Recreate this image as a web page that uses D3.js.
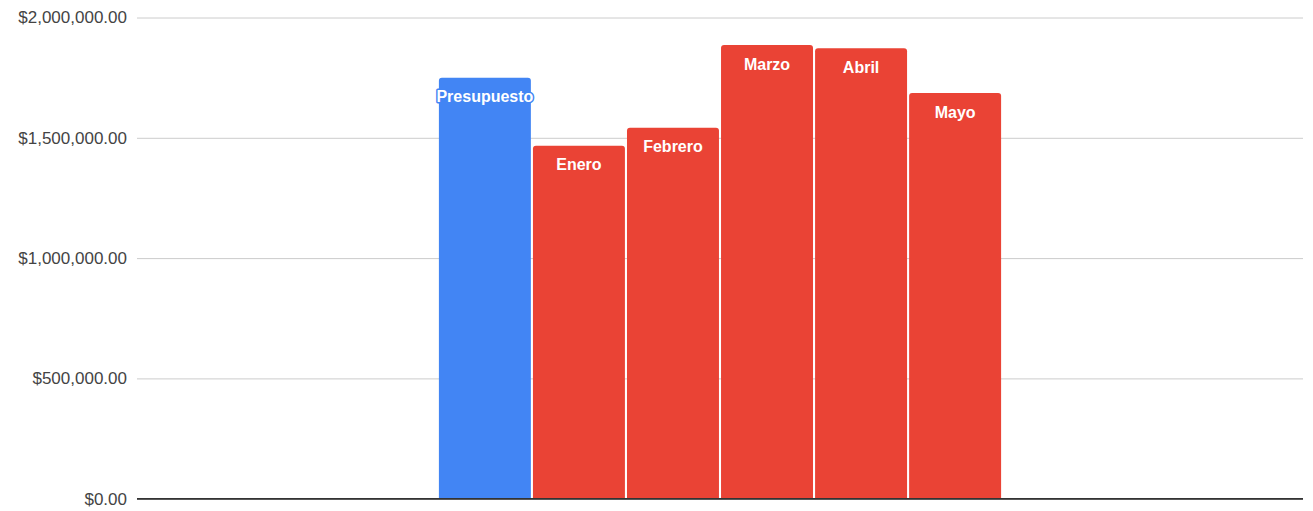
<!DOCTYPE html>
<html lang="es">
<head>
  <meta charset="UTF-8">
  <title>Presupuesto vs meses</title>
  <script src="https://d3js.org/d3.v7.min.js"></script>
  <style>
    html, body {
      margin: 0;
      padding: 0;
      background: #fff;
    }
    .tick text {
      font: 17px "Liberation Sans", Arial, sans-serif;
      fill: #444;
    }
    .bar-label {
      font: bold 16px "Liberation Sans", Arial, sans-serif;
      fill: #fff;
      stroke-width: 3px;
      stroke-linejoin: round;
      paint-order: stroke;
    }
  </style>
</head>
<body>
  <div id="chart"></div>

  <script>
    // data
    const categories = [''];
    const seriesNames = ['Presupuesto', 'Enero', 'Febrero', 'Marzo', 'Abril', 'Mayo'];
    const seriesValues = [1750000, 1467000, 1542000, 1886000, 1872000, 1686000];
    const seriesColors = ['#4285f4', '#ea4335', '#ea4335', '#ea4335', '#ea4335', '#ea4335'];
    const yTicks = [0, 500000, 1000000, 1500000, 2000000];

    const width = 1313;
    const height = 511;
    const margin = { top: 17.5, right: 10, bottom: 12.3, left: 137 };
    const innerW = width - margin.left - margin.right;
    const innerH = height - margin.top - margin.bottom;

    const svg = d3.select('#chart').append('svg')
      .attr('width', width)
      .attr('height', height);

    const g = svg.append('g')
      .attr('transform', `translate(${margin.left},${margin.top})`);

    const y = d3.scaleLinear().domain([0, 2000000]).range([innerH, 0]);

    const x0 = d3.scaleBand()
      .domain(categories)
      .range([0, innerW])
      .paddingInner(0)
      .paddingOuter(0.537);

    const x1 = d3.scaleBand()
      .domain(seriesNames)
      .range([0, x0.bandwidth()])
      .paddingInner(0.022);

    const fmt = d => '$' + d3.format(',.2f')(d);

    // gridlines + labels
    const yAxis = g.append('g')
      .call(d3.axisLeft(y).tickValues(yTicks).tickFormat(fmt).tickSize(-innerW).tickPadding(10));
    yAxis.select('.domain').remove();
    yAxis.selectAll('.tick line')
      .attr('stroke', d => d === 0 ? '#333' : '#ccc')
      .attr('stroke-width', d => d === 0 ? 1.3 : 1);

    const rows = seriesNames.map((name, i) => ({
      name, value: seriesValues[i], color: seriesColors[i]
    }));

    const r = 3;
    const group = g.append('g')
      .attr('transform', `translate(${x0(categories[0])},0)`);

    // bars with rounded top corners
    group.selectAll('path.bar')
      .data(rows)
      .join('path')
      .attr('class', 'bar')
      .attr('fill', d => d.color)
      .attr('d', d => {
        const x = x1(d.name), w = x1.bandwidth();
        const top = y(d.value), bot = y(0);
        return `M${x},${bot}V${top + r}Q${x},${top} ${x + r},${top}H${x + w - r}Q${x + w},${top} ${x + w},${top + r}V${bot}Z`;
      });

    group.selectAll('text.bar-label')
      .data(rows)
      .join('text')
      .attr('class', 'bar-label')
      .attr('stroke', d => d.color)
      .attr('x', d => x1(d.name) + x1.bandwidth() / 2)
      .attr('y', d => y(d.value) + 19)
      .attr('dy', '0.35em')
      .attr('text-anchor', 'middle')
      .text(d => d.name);

    // baseline over bars
    g.append('line')
      .attr('x1', 0).attr('x2', innerW)
      .attr('y1', y(0)).attr('y2', y(0))
      .attr('stroke', '#333')
      .attr('stroke-width', 1.3);
  </script>
</body>
</html>
